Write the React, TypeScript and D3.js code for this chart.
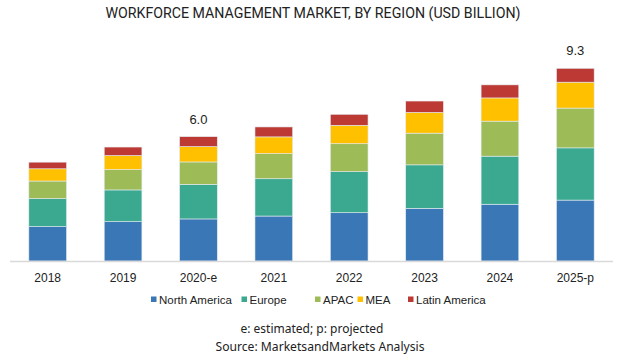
import React from "react";
import * as d3 from "d3";

const years = ["2018", "2019", "2020-e", "2021", "2022", "2023", "2024", "2025-p"];
const northAmerica = [1.66, 1.9, 2.03, 2.17, 2.33, 2.54, 2.74, 2.94];
const europe = [1.35, 1.53, 1.67, 1.8, 1.98, 2.1, 2.32, 2.52];
const apac = [0.85, 0.98, 1.08, 1.21, 1.35, 1.53, 1.69, 1.92];
const mea = [0.59, 0.68, 0.74, 0.81, 0.89, 1.0, 1.12, 1.25];
const latinAmerica = [0.32, 0.41, 0.48, 0.48, 0.53, 0.55, 0.63, 0.67];
const seriesNames = ["North America", "Europe", "APAC", "MEA", "Latin America"];
const totalLabels: Record<string, string> = { "2020-e": "6.0", "2025-p": "9.3" };
const colors = ["#3a77b6", "#3aa98f", "#9dbb57", "#ffc000", "#bc3a33"];

export default function App() {
  const W = 629, H = 360;
  const baseY = 261;
  const rows = years.map((y, i) => ({
    year: y,
    "North America": northAmerica[i],
    Europe: europe[i],
    APAC: apac[i],
    MEA: mea[i],
    "Latin America": latinAmerica[i],
  }));
  const stack = d3.stack<any>().keys(seriesNames)(rows);
  const x = d3.scaleBand<string>().domain(years).range([10, 613]).paddingInner(0.5).paddingOuter(0.25);
  const y = d3.scaleLinear().domain([0, 9.3]).range([baseY, 68.3]);

  const legendX = [151, 241.5, 315, 357.5, 408];

  return (
    <svg width={W} height={H} style={{ position: "absolute", left: 0, top: 0, background: "#fff" }}>
      <rect width={W} height={H} fill="#fff" />
      <text x={313} y={18} textAnchor="middle" fontFamily="'Liberation Sans Narrow', 'Arial Narrow', Roboto, sans-serif" fontSize={15} fill="#222" textLength={415} lengthAdjust="spacingAndGlyphs">
        WORKFORCE MANAGEMENT MARKET, BY REGION (USD BILLION)
      </text>
      {stack.map((s, si) => (
        <g key={si} fill={colors[si]}>
          {s.map((d, i) => (
            <rect key={i} x={x(years[i])} width={x.bandwidth()} y={y(d[1])} height={y(d[0]) - y(d[1])} stroke="#e4ecf3" strokeWidth={0.6} />
          ))}
        </g>
      ))}
      <line x1={10} x2={613} y1={baseY + 0.5} y2={baseY + 0.5} stroke="#d9d9d9" strokeWidth={1.5} />
      {years.map((yr) => (
        <text key={yr} x={(x(yr) as number) + x.bandwidth() / 2} y={281.5} textAnchor="middle" fontFamily="'Liberation Sans', Arial, sans-serif" fontSize={12} fill="#222">
          {yr}
        </text>
      ))}
      {years.map((yr, i) =>
        totalLabels[yr] ? (
          <text key={"t" + yr} x={(x(yr) as number) + x.bandwidth() / 2} y={y(stack[4][i][1]) - 13} textAnchor="middle" fontFamily="'Liberation Sans', Arial, sans-serif" fontSize={13} fill="#222">
            {totalLabels[yr]}
          </text>
        ) : null
      )}
      {seriesNames.map((n, i) => (
        <g key={n}>
          <rect x={legendX[i]} y={296.5} width={5.5} height={5.5} fill={colors[i]} />
          <text x={legendX[i] + 8} y={304} fontFamily="'Liberation Sans', Arial, sans-serif" fontSize={11.5} fill="#222">
            {n}
          </text>
        </g>
      ))}
      <text x={312} y={333} textAnchor="middle" fontFamily="'Noto Sans', 'Open Sans', sans-serif" fontSize={12} fill="#222">
        e: estimated; p: projected
      </text>
      <text x={320} y={351} textAnchor="middle" fontFamily="'Noto Sans', 'Open Sans', sans-serif" fontSize={12} fill="#222" textLength={209} lengthAdjust="spacingAndGlyphs">
        Source: MarketsandMarkets Analysis
      </text>
    </svg>
  );
}
